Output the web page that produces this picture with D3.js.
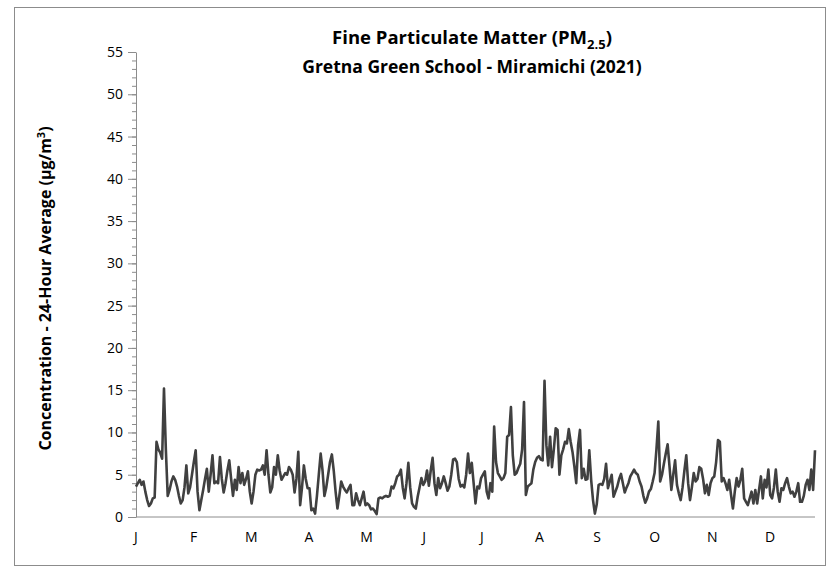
<!DOCTYPE html>
<html>
<head>
<meta charset="utf-8">
<script src="https://cdn.jsdelivr.net/npm/d3@7"></script>
<style>
  body { margin: 0; background: #fff; }
  text { font-family: "Open Sans", "DejaVu Sans", sans-serif; }
</style>
</head>
<body>
<script>
// daily 24-hour average PM2.5, Jan 1 .. Dec 31 2021
const pm25 = [
  3.6, 4.0, 4.4, 3.8, 4.2, 3.0, 2.0, 1.3, 1.6, 2.2,
  2.3, 8.9, 8.0, 7.6, 6.9, 15.2, 8.0, 2.5, 3.2, 4.2,
  4.8, 4.4, 3.6, 2.5, 1.6, 2.0, 3.5, 6.1, 2.8, 3.5,
  5.0, 6.5, 7.9, 3.0, 0.8, 2.0, 3.2, 4.5, 5.7, 3.0,
  5.0, 7.3, 4.0, 4.2, 4.0, 7.1, 4.5, 2.9, 4.0, 5.5,
  6.7, 4.5, 2.5, 4.4, 3.2, 5.9, 4.0, 5.2, 3.8, 4.5,
  5.4, 3.0, 1.6, 3.0, 5.0, 5.6, 5.5, 5.6, 6.1, 5.0,
  7.9, 5.0, 2.9, 3.5, 5.9, 5.0, 7.3, 5.5, 4.4, 4.8,
  5.2, 5.0, 5.9, 5.6, 5.0, 2.9, 4.5, 7.7, 1.4, 3.5,
  6.1, 4.5, 3.4, 3.4, 0.8, 1.0, 0.4, 2.5, 5.0, 7.5,
  5.5, 2.5, 3.5, 5.0, 6.5, 7.4, 5.5, 3.0, 1.0, 2.5,
  4.2, 3.6, 3.2, 2.9, 3.4, 3.8, 1.4, 1.4, 2.8, 2.0,
  1.4, 2.2, 3.0, 1.4, 1.6, 1.4, 0.9, 1.0, 0.7, 0.35,
  2.2, 2.3, 2.2, 2.4, 2.5, 2.4, 2.5, 3.6, 3.4, 4.0,
  4.8, 5.0, 5.6, 3.5, 2.2, 4.0, 6.4, 3.5, 1.6, 1.2,
  1.0, 2.4, 3.5, 4.6, 3.8, 4.2, 5.5, 3.7, 5.5, 7.0,
  4.0, 2.6, 4.6, 3.4, 4.0, 4.8, 4.0, 3.1, 3.6, 5.0,
  6.8, 6.9, 6.5, 4.5, 3.6, 3.8, 3.5, 5.0, 7.5, 5.2,
  6.4, 4.0, 1.6, 3.6, 3.4, 4.6, 5.0, 5.4, 3.0, 2.2,
  4.0, 3.0, 10.7, 6.5, 5.2, 4.8, 4.4, 4.6, 5.2, 9.5,
  9.7, 13.0, 7.3, 5.0, 5.2, 5.8, 6.3, 8.0, 13.6, 2.6,
  3.6, 3.8, 4.0, 5.6, 6.5, 7.0, 7.2, 6.8, 6.7, 16.1,
  8.5, 6.1, 9.5, 5.9, 8.0, 10.5, 10.3, 5.0, 7.3, 8.0,
  8.9, 8.7, 10.4, 8.9, 7.7, 6.0, 4.0, 8.5, 10.3, 4.6,
  5.7, 4.4, 4.5, 7.9, 4.4, 2.0, 0.4, 1.5, 3.8, 3.9,
  3.8, 4.5, 6.3, 3.4, 4.2, 5.0, 2.4, 3.0, 3.6, 4.5,
  5.1, 4.0, 2.9, 3.5, 4.0, 4.8, 5.2, 5.6, 5.2, 5.0,
  4.2, 3.6, 2.5, 1.7, 2.2, 3.0, 3.3, 4.2, 5.2, 8.0,
  11.3, 4.2, 5.0, 6.3, 7.5, 8.6, 6.0, 3.2, 5.0, 6.7,
  3.8, 2.8, 2.0, 3.5, 5.5, 7.3, 4.0, 2.0, 3.5, 5.2,
  4.2, 4.5, 5.9, 5.7, 4.5, 2.8, 3.8, 2.6, 4.0, 4.6,
  4.8, 6.5, 9.1, 8.9, 4.2, 4.6, 4.0, 3.2, 4.4, 2.6,
  1.0, 3.0, 4.6, 3.6, 4.4, 5.7, 2.2, 1.8, 1.4, 2.2,
  3.0, 1.6, 3.2, 1.6, 3.2, 4.8, 2.2, 4.4, 3.5, 5.6,
  2.6, 2.2, 3.5, 5.6, 3.0, 1.8, 3.4, 3.2, 4.0, 4.6,
  3.6, 2.8, 3.0, 2.4, 3.0, 4.0, 1.8, 1.8, 2.5, 3.8,
  4.4, 3.2, 5.6, 3.2, 7.9
];

const monthLabels = ['J', 'F', 'M', 'A', 'M', 'J', 'J', 'A', 'S', 'O', 'N', 'D'];
const yTicks = [0, 5, 10, 15, 20, 25, 30, 35, 40, 45, 50, 55];

const width = 831, height = 568;
const margin = { top: 52, right: 16, bottom: 51, left: 136 };

const svg = d3.select('body').append('svg')
    .attr('width', width)
    .attr('height', height);

// chart frame
svg.append('rect')
    .attr('x', 14.5).attr('y', 7.5)
    .attr('width', 811).attr('height', 558)
    .attr('fill', '#fff')
    .attr('stroke', '#8c8c8c')
    .attr('stroke-width', 1);

let xScale = d3.scaleLinear()
    .domain([0, pm25.length - 1])
    .range([margin.left, width - margin.right]);

let yScale = d3.scaleLinear()
    .domain([0, 55])
    .range([height - margin.bottom, margin.top]);

// months are spread evenly under the axis
let monthScale = d3.scalePoint()
    .domain(d3.range(monthLabels.length))
    .range([136, 770]);

// y axis with minor ticks every 1
svg.append('g')
    .attr('class', 'axis-minor')
    .attr('transform', 'translate(' + margin.left + ',0)')
    .call(d3.axisLeft(yScale).tickValues(d3.range(0, 56, 1)).tickSize(4).tickFormat(''))
    .call(g => g.select('.domain').remove())
    .selectAll('line').attr('stroke', '#8c8c8c');

svg.append('g')
    .attr('class', 'axis')
    .attr('transform', 'translate(' + margin.left + ',0)')
    .call(d3.axisLeft(yScale).tickValues(yTicks).tickSize(8).tickPadding(5).tickSizeOuter(0))
    .call(g => g.select('.domain').attr('stroke', '#8c8c8c'))
    .call(g => g.selectAll('line').attr('stroke', '#8c8c8c'))
    .call(g => g.selectAll('text')
        .attr('fill', '#000')
        .style('font-size', '14px'));

// x axis line
svg.append('line')
    .attr('x1', margin.left).attr('x2', width - margin.right)
    .attr('y1', yScale(0)).attr('y2', yScale(0))
    .attr('stroke', '#8c8c8c')
    .attr('stroke-width', 1);

svg.append('g')
    .selectAll('text')
    .data(monthLabels)
    .enter()
    .append('text')
    .attr('x', (d, i) => monthScale(i))
    .attr('y', yScale(0) + 25)
    .attr('text-anchor', 'middle')
    .style('font-size', '14px')
    .text(d => d);

// data line
let line = d3.line()
    .x((d, i) => xScale(i))
    .y(d => yScale(d));

svg.append('path')
    .datum(pm25)
    .attr('fill', 'none')
    .attr('stroke', '#404040')
    .attr('stroke-width', 2.6)
    .attr('stroke-linejoin', 'round')
    .attr('d', line);

// titles
let title = svg.append('text')
    .attr('x', 472)
    .attr('y', 44)
    .attr('text-anchor', 'middle')
    .style('font-size', '18.5px')
    .style('font-weight', 'bold');
title.append('tspan').text('Fine Particulate Matter (PM');
title.append('tspan').attr('dy', 5).style('font-size', '13px').text('2.5');
title.append('tspan').attr('dy', -5).text(')');

svg.append('text')
    .attr('x', 472)
    .attr('y', 73)
    .attr('text-anchor', 'middle')
    .style('font-size', '17.5px')
    .style('font-weight', 'bold')
    .text('Gretna Green School - Miramichi (2021)');

let ytitle = svg.append('text')
    .attr('transform', 'translate(51,' + ((margin.top + height - margin.bottom) / 2 + 4) + ') rotate(-90)')
    .attr('text-anchor', 'middle')
    .style('font-size', '16px')
    .style('font-weight', 'bold');
ytitle.append('tspan').text('Concentration - 24-Hour Average (\u00b5g/m');
ytitle.append('tspan').attr('dy', -6).style('font-size', '11px').text('3');
ytitle.append('tspan').attr('dy', 6).text(')');
</script>
</body>
</html>
